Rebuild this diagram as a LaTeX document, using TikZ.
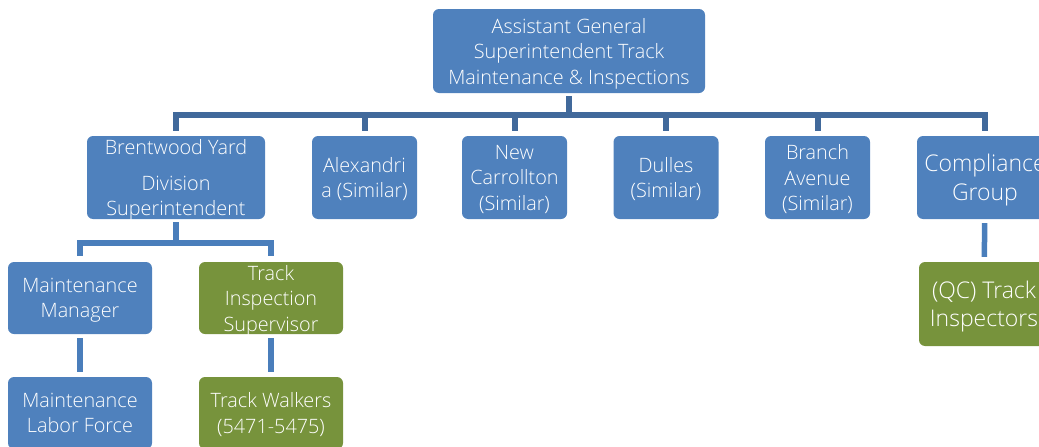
\documentclass[tikz,border=0pt]{standalone}
\usepackage{fontspec}
\IfFontExistsTF{Open Sans Light}{\setmainfont{Open Sans Light}}{\setmainfont{Open Sans}}
\usetikzlibrary{calc}
\definecolor{boxblue}{HTML}{4F81BD}
\definecolor{boxgreen}{HTML}{77933C}
\definecolor{conntop}{HTML}{41699B}
\definecolor{connlow}{HTML}{4A7EBB}
\begin{document}
\begin{tikzpicture}[x=1pt,y=-1pt,
  orgbox/.style={rounded corners=6pt, text=white, align=center, inner sep=0pt,
    text depth=-1pt, font=\fontsize{19.8}{25.5}\selectfont},
  bluebox/.style={orgbox, fill=boxblue},
  greenbox/.style={orgbox, fill=boxgreen},
  bigtext/.style={font=\fontsize{23}{28.5}\selectfont},
  topconn/.style={draw=conntop, line width=6pt},
  lowconn/.style={draw=connlow, line width=5.5pt}]
\useasboundingbox (0,0) rectangle (1039,447);
\clip (0,0) rectangle (1039,447);
% top
\node[bluebox, minimum width=272pt, minimum height=84pt] (top) at (569,51)
  {Assistant General\\Superintendent Track\\Maintenance \& Inspections};
% row 2
\node[bluebox, minimum width=178pt, minimum height=83pt] (brent) at (176,177.5)
  {Brentwood Yard\\[10pt]Division\\Superintendent};
\node[bluebox, minimum width=105pt, minimum height=83pt] (alex) at (364.5,177.5)
  {Alexandri\\a (Similar)};
\node[bluebox, minimum width=105pt, minimum height=83pt] (newc) at (514.5,177.5)
  {New\\Carrollton\\(Similar)};
\node[bluebox, minimum width=105pt, minimum height=83pt] (dulles) at (666,177.5)
  {Dulles\\(Similar)};
\node[bluebox, minimum width=105pt, minimum height=83pt] (branch) at (817.5,177.5)
  {Branch\\Avenue\\(Similar)};
\node[bluebox, bigtext, minimum width=136pt, minimum height=83pt] (comp) at (985,177.5)
  {Compliance\\Group};
% row 3
\node[bluebox, minimum width=144pt, minimum height=72pt] (mm) at (80,298)
  {Maintenance\\Manager};
\node[greenbox, minimum width=144pt, minimum height=72pt] (tis) at (271,298)
  {Track\\Inspection\\Supervisor};
\node[greenbox, bigtext, minimum width=130pt, minimum height=84pt] (qc) at (984,304)
  {(QC) Track\\Inspectors};
% row 4
\node[bluebox, minimum width=144pt, minimum height=72pt] (mlf) at (80,413)
  {Maintenance\\Labor Force};
\node[greenbox, minimum width=144pt, minimum height=72pt] (tw) at (271,413)
  {Track Walkers\\(5471-5475)};
% connectors
\coordinate (busa) at (0,115);
\coordinate (busb) at (0,243);
\foreach \c in {brent,alex,newc,dulles,branch,comp}
  \draw[topconn, shorten <=3pt, shorten >=5pt] (top.south) -- (top.south |- busa) -| (\c.north);
\foreach \c in {mm,tis}
  \draw[lowconn, shorten <=3pt, shorten >=6pt] (brent.south) -- (brent.south |- busb) -| (\c.north);
\draw[lowconn, shorten <=4pt, shorten >=5pt] (mm) -- (mlf);
\draw[lowconn, shorten <=4pt, shorten >=5pt] (tis) -- (tw);
\draw[lowconn, shorten <=4pt, shorten >=5pt] (comp) -- (qc);
\end{tikzpicture}
\end{document}
